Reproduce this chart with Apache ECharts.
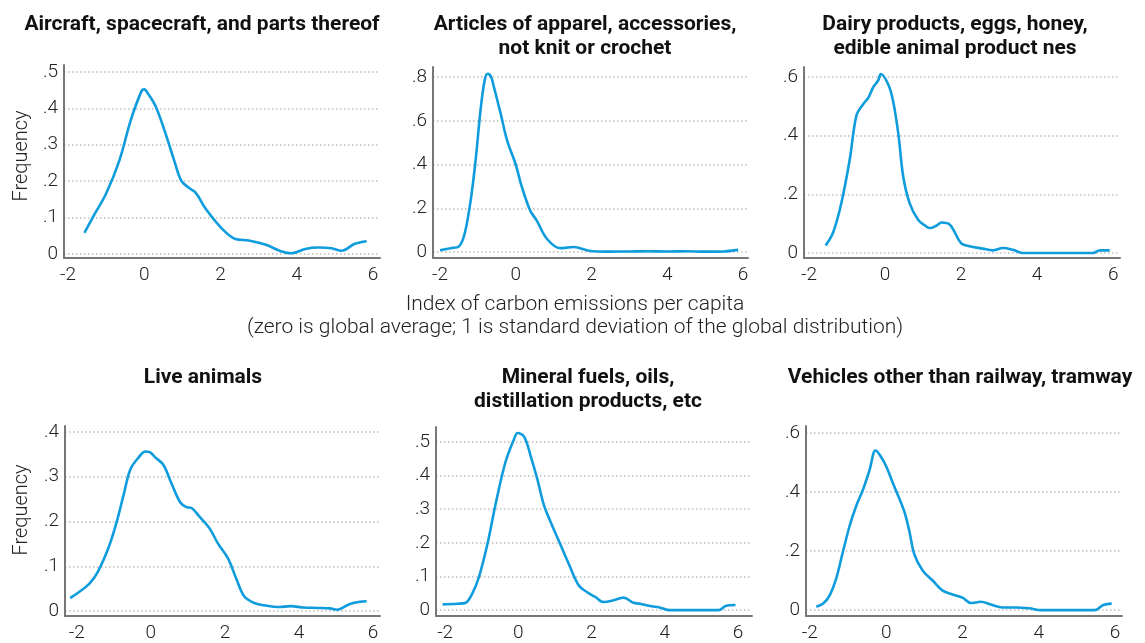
<!DOCTYPE html>
<html>
<head>
<meta charset="utf-8">
<script src="https://cdn.jsdelivr.net/npm/echarts@6/dist/echarts.min.js"></script>
<style>
  html, body { margin: 0; padding: 0; background: #fff; }
  #chart { width: 1145px; height: 643px; }
</style>
</head>
<body>
<div id="chart"></div>
<script>
// Density of carbon-emission index by product category
const titles = [
  'Aircraft, spacecraft, and parts thereof',
  'Articles of apparel, accessories,\nnot knit or crochet',
  'Dairy products, eggs, honey,\nedible animal product nes',
  'Live animals',
  'Mineral fuels, oils,\ndistillation products, etc',
  'Vehicles other than railway, tramway'
];

const xTicks = [-2, 0, 2, 4, 6];
const yTicksA = [0, 0.1, 0.2, 0.3, 0.4, 0.5];
const yTicksB = [0, 0.2, 0.4, 0.6, 0.8];
const yTicksC = [0, 0.2, 0.4, 0.6];
const yTicksD = [0, 0.1, 0.2, 0.3, 0.4];

const aircraftX = [-1.57, -1.3, -1.0, -0.65, -0.35, -0.07, 0.0, 0.1, 0.3, 0.56, 0.78, 0.96, 1.15, 1.35, 1.61, 2.04, 2.39, 2.74, 3.17, 3.6, 3.87, 4.22, 4.57, 4.91, 5.17, 5.52, 5.83];
const aircraftY = [0.058, 0.11, 0.166, 0.258, 0.369, 0.448, 0.452, 0.44, 0.405, 0.33, 0.258, 0.203, 0.183, 0.168, 0.124, 0.069, 0.041, 0.037, 0.026, 0.007, 0.002, 0.014, 0.018, 0.016, 0.009, 0.028, 0.035];

const apparelX = [-2.0, -1.72, -1.5, -1.35, -1.19, -1.06, -0.93, -0.82, -0.74, -0.65, -0.58, -0.4, -0.23, -0.01, 0.16, 0.38, 0.55, 0.82, 1.17, 1.53, 1.96, 2.4, 3.0, 3.5, 4.0, 4.5, 5.0, 5.5, 5.87];
const apparelY = [0.008, 0.018, 0.026, 0.084, 0.237, 0.42, 0.649, 0.786, 0.815, 0.8, 0.756, 0.634, 0.511, 0.405, 0.298, 0.19, 0.145, 0.061, 0.018, 0.023, 0.005, 0.002, 0.003, 0.004, 0.003, 0.004, 0.002, 0.003, 0.01];

const dairyX = [-1.56, -1.37, -1.15, -0.93, -0.75, -0.57, -0.44, -0.31, -0.18, -0.11, 0.08, 0.21, 0.35, 0.48, 0.65, 0.87, 1.05, 1.18, 1.35, 1.49, 1.71, 2.0, 2.22, 2.57, 2.83, 3.1, 3.36, 3.62, 4.0, 4.5, 5.0, 5.47, 5.65, 5.91];
const dairyY = [0.026, 0.068, 0.169, 0.316, 0.469, 0.508, 0.529, 0.565, 0.588, 0.61, 0.576, 0.52, 0.407, 0.26, 0.169, 0.113, 0.094, 0.085, 0.093, 0.104, 0.096, 0.034, 0.023, 0.015, 0.009, 0.017, 0.011, 0.0, 0.0, 0.0, 0.0, 0.0, 0.009, 0.009];

const animalsX = [-2.18, -1.93, -1.66, -1.43, -1.12, -0.9, -0.72, -0.55, -0.33, -0.15, -0.02, 0.12, 0.34, 0.56, 0.79, 0.96, 1.1, 1.32, 1.59, 1.81, 2.08, 2.3, 2.52, 2.79, 3.06, 3.46, 3.77, 4.13, 4.48, 4.84, 5.02, 5.38, 5.65, 5.83];
const animalsY = [0.029, 0.043, 0.061, 0.088, 0.147, 0.206, 0.265, 0.317, 0.343, 0.356, 0.354, 0.343, 0.326, 0.284, 0.243, 0.232, 0.23, 0.21, 0.184, 0.151, 0.118, 0.074, 0.033, 0.018, 0.013, 0.009, 0.011, 0.008, 0.007, 0.006, 0.003, 0.016, 0.021, 0.022];

const fuelsX = [-2.07, -1.67, -1.44, -1.26, -1.08, -0.85, -0.63, -0.36, -0.13, -0.02, 0.16, 0.34, 0.52, 0.7, 0.88, 1.15, 1.38, 1.65, 1.88, 2.1, 2.33, 2.6, 2.87, 3.14, 3.32, 3.59, 3.86, 4.13, 4.6, 5.0, 5.48, 5.66, 5.93];
const fuelsY = [0.017, 0.019, 0.022, 0.049, 0.097, 0.194, 0.311, 0.437, 0.505, 0.526, 0.515, 0.456, 0.388, 0.311, 0.262, 0.194, 0.136, 0.073, 0.053, 0.039, 0.024, 0.029, 0.037, 0.022, 0.019, 0.012, 0.008, 0.0, 0.0, 0.0, 0.0, 0.012, 0.015];

const vehiclesX = [-1.83, -1.65, -1.48, -1.3, -1.13, -0.95, -0.78, -0.6, -0.43, -0.28, -0.17, 0.0, 0.17, 0.35, 0.48, 0.61, 0.74, 0.96, 1.22, 1.48, 1.74, 2.0, 2.22, 2.48, 2.74, 3.05, 3.4, 3.75, 4.06, 4.5, 5.0, 5.47, 5.69, 5.91];
const vehiclesY = [0.011, 0.022, 0.05, 0.111, 0.199, 0.288, 0.354, 0.41, 0.476, 0.54, 0.526, 0.487, 0.432, 0.376, 0.332, 0.266, 0.188, 0.133, 0.1, 0.066, 0.053, 0.042, 0.024, 0.028, 0.019, 0.009, 0.009, 0.006, 0.0, 0.0, 0.0, 0.0, 0.017, 0.022];

const seriesX = [aircraftX, apparelX, dairyX, animalsX, fuelsX, vehiclesX];
const seriesY = [aircraftY, apparelY, dairyY, animalsY, fuelsY, vehiclesY];
const yTicks = [yTicksA, yTicksB, yTicksC, yTicksD, yTicksA, yTicksC];

// panel frames: [left, top, width, height] and axis extents
const frames = [
  [64, 65, 316, 193], [433, 67, 315, 191], [804, 67, 316, 191],
  [65, 426, 315, 193], [436, 427, 316, 192], [806, 426, 316, 193]
];
const xExtent = [[-2.105, 6.18], [-2.185, 6.13], [-2.13, 6.18], [-2.32, 6.19], [-2.25, 6.38], [-2.1, 6.18]];
const yExtent = [[-0.011, 0.519], [-0.027, 0.846], [-0.017, 0.634], [-0.011, 0.413], [-0.0175, 0.544], [-0.02, 0.623]];

const LIGHT = 'Roboto';
const LINE = '#0f9cdd';
const AXIS = '#777';
const TEXT = '#222';

function fmtY(v) {
  if (Math.abs(v) < 1e-9) return '0';
  return (Math.round(v * 10) / 10).toString().replace(/^0/, '');
}

const grid = [], xAxis = [], yAxis = [], series = [];
frames.forEach((f, i) => {
  grid.push({ left: f[0], top: f[1], width: f[2], height: f[3] });
  xAxis.push({
    type: 'value', gridIndex: i, min: xExtent[i][0], max: xExtent[i][1],
    axisLine: { show: true, onZero: false, lineStyle: { color: AXIS, width: 2 } },
    axisTick: { show: false, customValues: xTicks },
    axisLabel: { customValues: xTicks, margin: 8, fontFamily: LIGHT, fontWeight: 300, fontSize: 19, color: TEXT },
    splitLine: { show: false }
  });
  yAxis.push({
    type: 'value', gridIndex: i, min: yExtent[i][0], max: yExtent[i][1],
    axisLine: { show: true, onZero: false, lineStyle: { color: AXIS, width: 2 } },
    axisTick: { show: false, customValues: yTicks[i] },
    axisLabel: { customValues: yTicks[i], margin: 6, formatter: fmtY, fontFamily: LIGHT, fontWeight: 300, fontSize: 19, color: TEXT },
    splitLine: { show: true, lineStyle: { color: '#bdbdbd', width: 1.5, type: [1.5, 2.5] } }
  });
  series.push({
    type: 'line', xAxisIndex: i, yAxisIndex: i, showSymbol: false, smooth: 0.35,
    lineStyle: { color: LINE, width: 2.6 },
    data: seriesX[i].map((x, k) => [x, seriesY[i][k]])
  });
});

const titleCenters = [[202, 25], [585, 37], [955, 37], [203, 378], [588, 390], [960, 378]];
const graphic = titles.map((t, i) => ({
  type: 'text', x: titleCenters[i][0], y: titleCenters[i][1], silent: true,
  style: {
    text: t, fill: '#111', font: 'bold 21px Roboto', lineHeight: 24,
    textAlign: 'center', textVerticalAlign: 'middle'
  }
}));
[156, 510].forEach(y => graphic.push({
  type: 'text', x: 22, y: y, rotation: Math.PI / 2, silent: true,
  style: { text: 'Frequency', fill: TEXT, font: '300 20px Roboto', textAlign: 'center', textVerticalAlign: 'middle' }
}));
graphic.push({
  type: 'text', x: 575, y: 316, silent: true,
  style: {
    text: 'Index of carbon emissions per capita\n(zero is global average; 1 is standard deviation of the global distribution)',
    fill: TEXT, font: '300 21px Roboto', lineHeight: 23, textAlign: 'center', textVerticalAlign: 'middle'
  }
});

const chart = echarts.init(document.getElementById('chart'), null, { renderer: 'canvas' });
chart.setOption({ animation: false, grid, xAxis, yAxis, series, graphic });
</script>
</body>
</html>
